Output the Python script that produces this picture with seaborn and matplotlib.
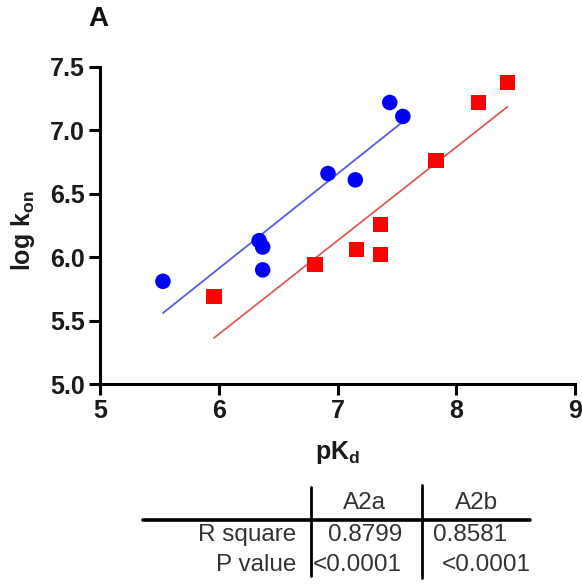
import matplotlib
matplotlib.use("Agg")
import matplotlib.pyplot as plt
import seaborn as sns
import numpy as np
from matplotlib.lines import Line2D

# ---- data ----
a2a_pkd = [5.53, 6.34, 6.37, 6.37, 6.92, 7.15, 7.44, 7.55]
a2a_logkon = [5.81, 6.13, 6.08, 5.90, 6.66, 6.61, 7.22, 7.11]
a2b_pkd = [5.96, 6.81, 7.16, 7.36, 7.36, 7.83, 8.19, 8.43]
a2b_logkon = [5.69, 5.94, 6.06, 6.26, 6.02, 6.76, 7.22, 7.38]

x_ticks = [5, 6, 7, 8, 9]
y_ticks = [5.0, 5.5, 6.0, 6.5, 7.0, 7.5]

table_cols = ["A2a", "A2b"]
table_rows = ["R square", "P value"]
r_square = ["0.8799", "0.8581"]
p_value = ["<0.0001", "<0.0001"]

sns.set_theme(style="white")
plt.rcParams["font.family"] = ["Liberation Sans", "DejaVu Sans"]
plt.rcParams["mathtext.fontset"] = "custom"
plt.rcParams["mathtext.rm"] = "Liberation Sans:bold"
plt.rcParams["mathtext.it"] = "Liberation Sans:bold"
plt.rcParams["mathtext.bf"] = "Liberation Sans:bold"

W, H = 582, 586
fig = plt.figure(figsize=(W / 100, H / 100), dpi=100)
fig.patch.set_facecolor("white")

ax = fig.add_axes([100 / W, 1 - 384 / H, 475 / W, 317 / H])

# regression lines
sns.regplot(x=a2a_pkd, y=a2a_logkon, scatter=False, ci=None, truncate=True,
            color="#5a5ae6", line_kws=dict(lw=1.3), ax=ax)
sns.regplot(x=a2b_pkd, y=a2b_logkon, scatter=False, ci=None, truncate=True,
            color="#e05a5a", line_kws=dict(lw=1.3), ax=ax)

# points
sns.scatterplot(x=a2a_pkd, y=a2a_logkon, marker="o", s=125, color="#0000ff",
                edgecolor="none", linewidth=0, ax=ax, zorder=4)
sns.scatterplot(x=a2b_pkd, y=a2b_logkon, marker="s", s=120, color="#ff0000",
                edgecolor="none", linewidth=0, ax=ax, zorder=4)

ax.set_xlim(5, 9)
ax.set_ylim(5, 7.5)
ax.set_xticks(x_ticks)
ax.set_yticks(y_ticks)
ax.set_xticklabels([str(t) for t in x_ticks])
ax.set_yticklabels([f"{t:.1f}" for t in y_ticks])

for s in ["top", "right"]:
    ax.spines[s].set_visible(False)
for s in ["left", "bottom"]:
    ax.spines[s].set_linewidth(2.2)
    ax.spines[s].set_color("black")
    ax.spines[s].set_capstyle("projecting")

ax.tick_params(axis="both", which="major", direction="out", length=8, width=2.2,
               color="black", labelsize=18, pad=3, left=True, bottom=True,
               labelcolor="#1a1a1a")
for lab in ax.get_xticklabels() + ax.get_yticklabels():
    lab.set_fontweight("bold")

ax.set_xlabel("pK$_{d}$", fontsize=18, fontweight="bold", color="#1a1a1a")
ax.set_ylabel("log k$_{on}$", fontsize=18, fontweight="bold", color="#1a1a1a")
ax.xaxis.set_label_coords(0.5, (384 - 453) / 317)
ax.xaxis.label.set_va("center")
ax.yaxis.set_label_coords((23 - 100) / 475, (384 - 231) / 317)
ax.yaxis.label.set_va("center")

fig.text(98 / W, 1 - 19 / H, "A", fontsize=20, fontweight="bold",
         ha="center", va="center", color="#111111")

# ---- statistics table ----
tax = fig.add_axes([0, 0, 1, 1], zorder=-1)
tax.set_xlim(0, W)
tax.set_ylim(H, 0)
tax.axis("off")

tax.add_line(Line2D([143, 530], [519.5, 519.5], lw=2.6, color="black"))
tax.add_line(Line2D([311, 311], [487, 576], lw=2.0, color="black"))
tax.add_line(Line2D([422, 422], [485, 578], lw=2.0, color="black"))

tcol = "#333333"
fs = 17.5
col_centers = [364, 477]
for name, cx in zip(table_cols, col_centers):
    tax.text(cx, 503, name, ha="center", va="center", fontsize=fs, color=tcol)
row_y = [535, 565]
for name, ry in zip(table_rows, row_y):
    tax.text(296, ry, name, ha="right", va="center", fontsize=fs, color=tcol)
tax.text(365, row_y[0], r_square[0], ha="center", va="center", fontsize=fs, color=tcol)
tax.text(470, row_y[0], r_square[1], ha="center", va="center", fontsize=fs, color=tcol)
tax.text(313, row_y[1], p_value[0], ha="left", va="center", fontsize=fs, color=tcol)
tax.text(531, row_y[1], p_value[1], ha="right", va="center", fontsize=fs, color=tcol)

fig.savefig("out.png", dpi=100, facecolor="white")
